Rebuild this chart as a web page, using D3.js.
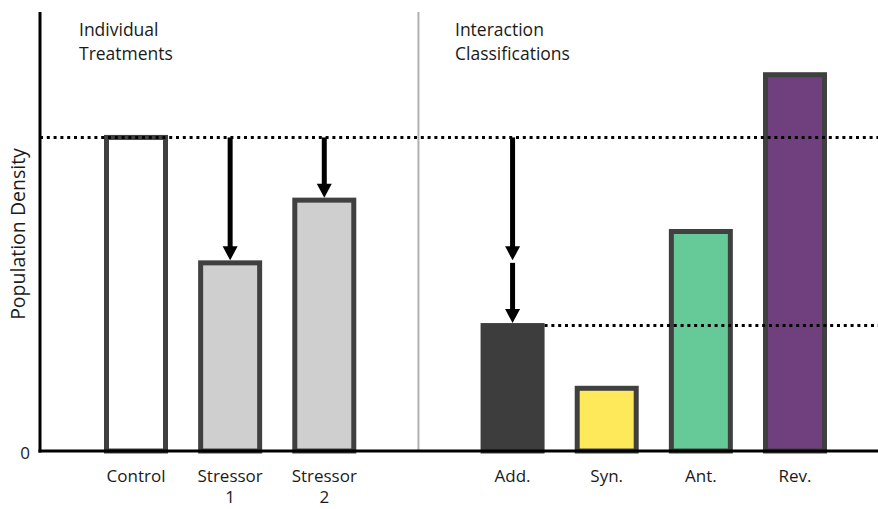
<!DOCTYPE html>
<html>
<head>
<meta charset="utf-8">
<script src="https://cdn.jsdelivr.net/npm/d3@7"></script>
<style>
  html, body { margin: 0; padding: 0; background: #fff; }
  svg { display: block; font-family: "Open Sans", sans-serif; }
</style>
</head>
<body>
<svg id="chart" width="878" height="509"></svg>
<script>
// ---- data ----
const categories = ["Control", "Stressor 1", "Stressor 2", "", "Add.", "Syn.", "Ant.", "Rev."];
const labelLines = [["Control"], ["Stressor", "1"], ["Stressor", "2"], [], ["Add."], ["Syn."], ["Ant."], ["Rev."]];
const values = [10, 6, 8, null, 4, 2, 7, 12];
const fills = ["#ffffff", "#d0cfd0", "#d0cfd0", null, "#3d3d3d", "#fde95a", "#66c998", "#6f3f7e"];
const arrowCats = ["Stressor 1", "Stressor 2", "Add.", "Add."];
const arrowFrom = [10, 10, 10, 6];
const arrowTo = [6, 8, 6, 4];
const refLevels = [10, 4];
const refStartCats = [null, "Add."];
const tickValues = [0];
const yTitle = "Population Density";
const groupTitles = [["Individual", "Treatments"], ["Interaction", "Classifications"]];

// ---- layout ----
const svg = d3.select("#chart");
const W = 878;
const x0 = 40, yBase = 451, yTop = 12;
const y = d3.scaleLinear().domain([0, 14]).range([yBase, yTop]);
const x = d3.scalePoint().domain(categories).range([136, 795]);
const barW = 59;
const txt = "#1a1a1a";

// divider
const divX = x("");
svg.append("line").attr("x1", divX).attr("x2", divX).attr("y1", yTop).attr("y2", yBase)
  .attr("stroke", "#b0b0b0").attr("stroke-width", 2);

// bars
const bars = categories.map((c, i) => ({ c, v: values[i], f: fills[i] })).filter(d => d.v !== null);
svg.selectAll("rect.bar").data(bars).enter().append("rect")
  .attr("class", "bar")
  .attr("x", d => x(d.c) - barW / 2)
  .attr("y", d => y(d.v))
  .attr("width", barW)
  .attr("height", d => y(0) - y(d.v))
  .attr("fill", d => d.f)
  .attr("stroke", d => d.c === "Add." ? "#3d3d3d" : "#404040")
  .attr("stroke-width", 5);

// dotted reference lines
refLevels.forEach((lv, i) => {
  const sx = refStartCats[i] ? x(refStartCats[i]) + barW / 2 + 2.5 : x0;
  svg.append("line").attr("x1", sx).attr("x2", W).attr("y1", y(lv)).attr("y2", y(lv))
    .attr("stroke", "#000").attr("stroke-width", 3).attr("stroke-dasharray", "3,3.8");
});

// arrows
const headH = 14, headW = 15;
arrowCats.forEach((c, i) => {
  const cx = x(c), y1 = y(arrowFrom[i]), y2 = y(arrowTo[i]) - 2.5;
  svg.append("line").attr("x1", cx).attr("x2", cx).attr("y1", y1).attr("y2", y2 - headH + 1)
    .attr("stroke", "#000").attr("stroke-width", 5);
  svg.append("path")
    .attr("d", `M${cx - headW / 2},${y2 - headH} L${cx + headW / 2},${y2 - headH} L${cx},${y2} Z`)
    .attr("fill", "#000");
});

// axes
const yAxis = svg.append("g").attr("transform", `translate(${x0},0)`)
  .call(d3.axisLeft(y).tickValues(tickValues).tickSize(0).tickPadding(10));
yAxis.select(".domain").remove();
yAxis.selectAll("text").attr("font-size", 17).attr("font-family", "Open Sans, sans-serif").attr("fill", txt).attr("dy", "0.45em");
svg.append("line").attr("x1", x0).attr("x2", x0).attr("y1", yTop).attr("y2", yBase + 1.5)
  .attr("stroke", "#000").attr("stroke-width", 3);
svg.append("line").attr("x1", x0 - 1.5).attr("x2", W).attr("y1", yBase).attr("y2", yBase)
  .attr("stroke", "#000").attr("stroke-width", 3);

// category labels
categories.forEach((c, i) => {
  const t = svg.append("text").attr("x", x(c)).attr("y", 482)
    .attr("text-anchor", "middle").attr("font-size", 17).attr("fill", txt);
  labelLines[i].forEach((ln, j) => {
    t.append("tspan").attr("x", x(c)).attr("dy", j === 0 ? 0 : 21).text(ln);
  });
});

// y title
svg.append("text").attr("transform", `translate(25,234) rotate(-90)`)
  .attr("text-anchor", "middle").attr("font-size", 19.5).attr("fill", txt).text(yTitle);

// group titles
const titleX = [79, 455];
groupTitles.forEach((lines, i) => {
  const t = svg.append("text").attr("x", titleX[i]).attr("y", 36).attr("font-size", 17.5).attr("fill", txt);
  lines.forEach((ln, j) => t.append("tspan").attr("x", titleX[i]).attr("dy", j === 0 ? 0 : 24).text(ln));
});
</script>
</body>
</html>
